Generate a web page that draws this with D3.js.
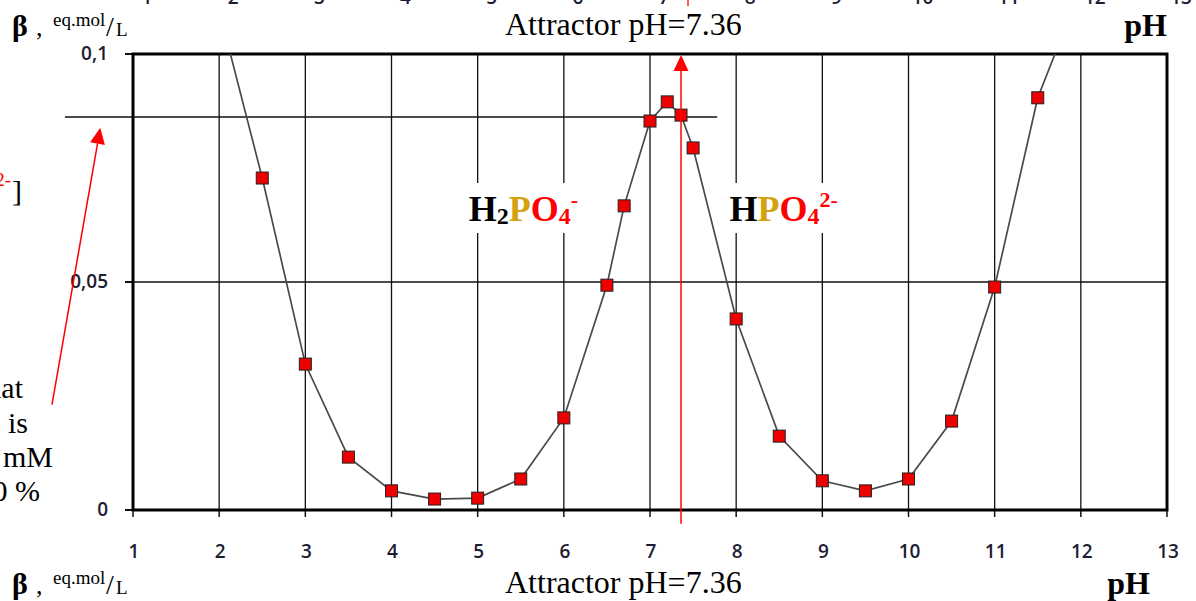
<!DOCTYPE html>
<html lang="en">
<head>
	<meta charset="UTF-8">
	<title>Buffer capacity of phosphate</title>
	<script src="https://cdn.jsdelivr.net/npm/d3@7"></script>
	<style>
		html,body{margin:0;padding:0;background:#fff;}
		svg{display:block;}
		.tick-label{font-family:"Open Sans","DejaVu Sans",sans-serif;font-weight:600;font-size:19px;fill:#1d1d33;}
		.serif{font-family:"Liberation Serif","Times New Roman",serif;fill:#000;}
	</style>
</head>
<body>
	<svg id="svg" width="1196" height="601"></svg>
	<script>
		// pH values and buffer capacity beta (eq.mol/L)
		var ph   = [2, 2.5, 3, 3.5, 4, 4.5, 5, 5.5, 6, 6.5, 6.7, 7, 7.2, 7.36, 7.5, 8, 8.5, 9, 9.5, 10, 10.5, 11, 11.5, 12];
		var beta = [0.1096, 0.0728, 0.0320, 0.0116, 0.0042, 0.0024, 0.0026, 0.0068, 0.0202, 0.0493, 0.0667, 0.0853, 0.0895, 0.0866, 0.0794, 0.0419, 0.0162, 0.0064, 0.0042, 0.0068, 0.0195, 0.0489, 0.0904, 0.1144];
		var xTicks = [1,2,3,4,5,6,7,8,9,10,11,12,13];
		var yTicks = [0, 0.05, 0.1];
		var yTickLabels = ["0", "0,05", "0,1"];
		var attractorPH = 7.36;
		var attractorBeta = 0.0862;   // horizontal reference line
		var refLineRange = [0.21, 7.78];

		var points = ph.map((p,i)=>({ph:p, beta:beta[i]}));

		var svg = d3.select("#svg");
		var x = d3.scaleLinear().domain([1,13]).range([133,1167]);
		var y = d3.scaleLinear().domain([0,0.1]).range([510,54]);

		svg.append("clipPath").attr("id","plot").append("rect")
			.attr("x",x(1)).attr("y",y(0.1)).attr("width",x(13)-x(1)).attr("height",y(0)-y(0.1));

		// vertical grid
		svg.append("g").selectAll("line").data(xTicks.slice(1,-1)).join("line")
			.attr("x1",d=>x(d)).attr("x2",d=>x(d)).attr("y1",y(0.1)).attr("y2",y(0))
			.attr("stroke","#111").attr("stroke-width",1.3);
		// horizontal grid at 0.05 (with tick)
		svg.append("line").attr("x1",x(1)-8).attr("x2",x(13)).attr("y1",y(0.05)).attr("y2",y(0.05))
			.attr("stroke","#111").attr("stroke-width",1.3);

		// axis ticks
		svg.append("g").selectAll("line").data(yTicks).join("line")
			.attr("x1",x(1)-8).attr("x2",x(1)).attr("y1",d=>y(d)).attr("y2",d=>y(d))
			.attr("stroke","#111").attr("stroke-width",2);
		svg.append("g").selectAll("line").data(xTicks).join("line")
			.attr("x1",d=>x(d)).attr("x2",d=>x(d)).attr("y1",y(0)).attr("y2",y(0)+7)
			.attr("stroke","#111").attr("stroke-width",1.5);

		// frame
		svg.append("rect").attr("x",x(1)).attr("y",y(0.1)).attr("width",x(13)-x(1)).attr("height",y(0)-y(0.1))
			.attr("fill","none").attr("stroke","#000").attr("stroke-width",3);

		// tick labels
		svg.append("g").selectAll("text").data(xTicks).join("text")
			.attr("class","tick-label").attr("x",d=>x(d)+1).attr("y",y(0)+48)
			.attr("text-anchor","middle").text(d=>d);
		svg.append("g").selectAll("text").data(yTicks).join("text")
			.attr("class","tick-label").attr("x",x(1)-25).attr("y",d=>y(d)+6)
			.attr("text-anchor","end").text((d,i)=>yTickLabels[i]);

		// fragments of the tick labels from an image above (cut at the top)
		svg.append("g").selectAll("text").data(xTicks).join("text")
			.attr("class","tick-label").attr("x",d=>x(d)+14).attr("y",4)
			.attr("text-anchor","middle").text(d=>d);
		svg.append("line").attr("x1",688).attr("x2",688).attr("y1",0).attr("y2",6)
			.attr("stroke","#f22").attr("stroke-width",1.5);

		// reference line at the attractor
		svg.append("line").attr("x1",x(refLineRange[0])).attr("x2",x(refLineRange[1]))
			.attr("y1",y(attractorBeta)).attr("y2",y(attractorBeta))
			.attr("stroke","#111").attr("stroke-width",1.5);

		// curve
		var line = d3.line().x(d=>x(d.ph)).y(d=>y(d.beta));
		svg.append("path").datum(points).attr("d",line).attr("clip-path","url(#plot)")
			.attr("fill","none").attr("stroke","#4a4a4a").attr("stroke-width",1.7);

		// species labels with white background
		function species(px, parts){
			var g = svg.append("g");
			var t = g.append("text").attr("class","serif").attr("x",x(px)).attr("y",221)
				.attr("text-anchor","middle").attr("font-weight","bold").attr("font-size",36);
			parts.forEach(p=>{
				t.append("tspan").text(p.t).attr("fill",p.c)
					.attr("font-size",p.s||36).attr("dy",p.dy||0);
			});
			var bb = t.node().getBBox();
			g.insert("rect","text").attr("x",bb.x-6).attr("y",bb.y-4).attr("width",bb.width+12).attr("height",bb.height+8)
				.attr("fill","#fff");
		}
		species(5.53, [
			{t:"H",c:"#000"},{t:"2",c:"#000",s:24,dy:3},{t:"P",c:"#d4a20e",dy:-3},
			{t:"O",c:"#f00"},{t:"4",c:"#f00",s:24,dy:3},{t:"-",c:"#f00",s:22,dy:-17}
		]);
		species(8.55, [
			{t:"H",c:"#000"},{t:"P",c:"#d4a20e"},{t:"O",c:"#f00"},
			{t:"4",c:"#f00",s:24,dy:3},{t:"2-",c:"#f00",s:22,dy:-17}
		]);

		// markers
		svg.append("g").selectAll("rect").data(points.filter(d=>d.beta<=0.1)).join("rect")
			.attr("x",d=>x(d.ph)-6).attr("y",d=>y(d.beta)-6).attr("width",12).attr("height",12)
			.attr("fill","#ee0000").attr("stroke","#222").attr("stroke-width",1);

		// red arrows
		function arrow(x1,y1,x2,y2){
			var ang = Math.atan2(y2-y1,x2-x1), L = 16, W = 7.5;
			var bx = x2-L*Math.cos(ang), by = y2-L*Math.sin(ang);
			svg.append("line").attr("x1",x1).attr("y1",y1).attr("x2",bx).attr("y2",by)
				.attr("stroke","#f00").attr("stroke-width",1.5);
			svg.append("polygon").attr("fill","#f00").attr("points",[
				[x2,y2],[bx+W*Math.sin(ang),by-W*Math.cos(ang)],[bx-W*Math.sin(ang),by+W*Math.cos(ang)]
			].map(p=>p.join(",")).join(" "));
		}
		arrow(x(attractorPH), y(-0.003), x(attractorPH), y(0.1)+1);
		arrow(x(0.06), y(0.0231), x(0.62), y(0.0838));

		// titles (top and bottom rows)
		function titleRow(base, phX){
			svg.append("text").attr("class","serif").attr("x",12).attr("y",base).attr("font-size",30)
				.attr("font-weight","bold").text("β");
			svg.append("text").attr("class","serif").attr("x",36).attr("y",base).attr("font-size",26).text(",");
			svg.append("text").attr("class","serif").attr("x",53).attr("y",base-10).attr("font-size",19).text("eq.mol");
			svg.append("text").attr("class","serif").attr("x",106).attr("y",base).attr("font-size",28).text("/");
			svg.append("text").attr("class","serif").attr("x",116).attr("y",base).attr("font-size",19).text("L");
			svg.append("text").attr("class","serif").attr("x",505).attr("y",base-1).attr("font-size",32)
				.text("Attractor pH=" + attractorPH);
			svg.append("text").attr("class","serif").attr("x",phX).attr("y",base).attr("font-size",32)
				.attr("font-weight","bold").attr("text-anchor","end").text("pH");
		}
		titleRow(36, 1167);
		titleRow(594, 1150);

		// fragments of text from a neighbouring figure, cut by the left edge
		var left = svg.append("g").attr("class","serif").attr("font-size",30).attr("text-anchor","end");
		left.append("text").attr("x",23).attr("y",398).text("that");
		left.append("text").attr("x",28).attr("y",433).text("is");
		left.append("text").attr("x",53).attr("y",467).text("10 mM");
		left.append("text").attr("x",40).attr("y",501).text("100 %");
		left.append("text").attr("x",11).attr("y",186).attr("font-size",19).attr("fill","#f00").text("2-");
		left.append("text").attr("x",22).attr("y",201).text("]");
	</script>
</body>
</html>
